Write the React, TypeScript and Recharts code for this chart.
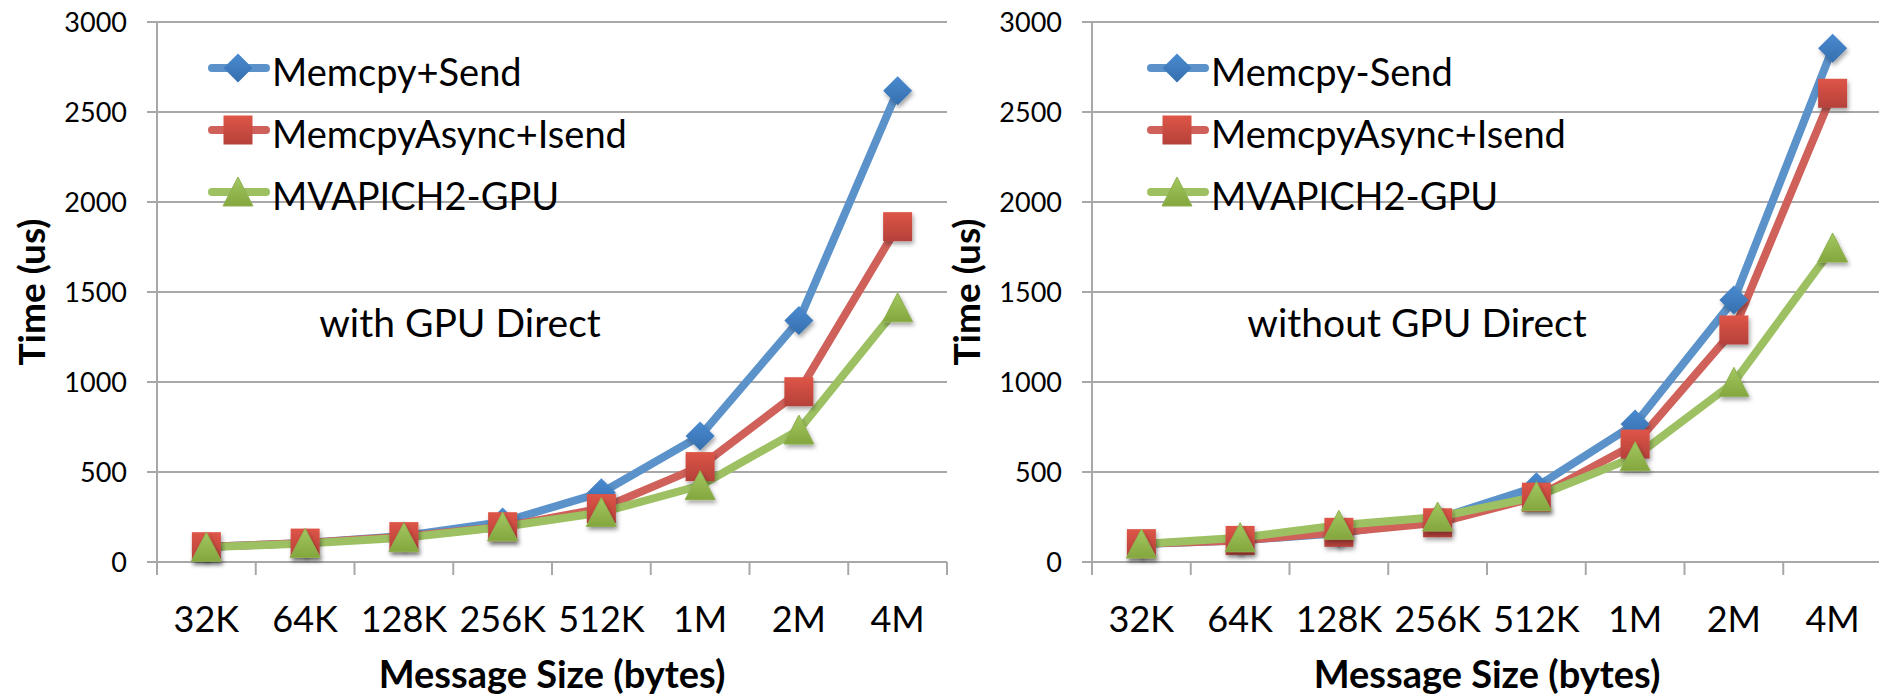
import { LineChart, Line, XAxis, YAxis, CartesianGrid, Legend } from "recharts";

// message sizes on the x axis
const categories = ["32K", "64K", "128K", "256K", "512K", "1M", "2M", "4M"];
const yTicks = [0, 500, 1000, 1500, 2000, 2500, 3000];

// with GPU Direct (left panel)
const directMemcpySend = [85, 105, 145, 222, 385, 700, 1341, 2618];
const directAsyncIsend = [85, 105, 141, 196, 297, 530, 946, 1863];
const directMvapich = [82, 103, 135, 195, 275, 424, 733, 1412];

// without GPU Direct (right panel)
const plainMemcpySend = [100, 120, 160, 240, 418, 767, 1456, 2854];
const plainAsyncIsend = [102, 120, 165, 218, 360, 655, 1289, 2604];
const plainMvapich = [100, 135, 204, 250, 363, 585, 998, 1744];

const FONT = "Lato, 'Open Sans', sans-serif";
const GRID = "#a8a8a8";
const CHART_W = 950;
const CHART_H = 697;
const Y_AXIS_W = 157;
const MARGIN = { top: 22, right: 3, left: 0, bottom: 0 };
const PLOT_W = CHART_W - Y_AXIS_W - MARGIN.right;
const BAND = PLOT_W / categories.length;

type Shape = "diamond" | "square" | "triangle";

interface SeriesDef {
  key: string;
  name: string;
  line: string;
  shape: Shape;
}

const buildData = (a: number[], b: number[], c: number[]) =>
  categories.map((size, i) => ({ size, send: a[i], async: b[i], mvapich: c[i] }));

const directData = buildData(directMemcpySend, directAsyncIsend, directMvapich);
const plainData = buildData(plainMemcpySend, plainAsyncIsend, plainMvapich);

const seriesFor = (firstName: string): SeriesDef[] => [
  { key: "send", name: firstName, line: "#5b92ca", shape: "diamond" },
  { key: "async", name: "MemcpyAsync+Isend", line: "#cf605a", shape: "square" },
  { key: "mvapich", name: "MVAPICH2-GPU", line: "#9dc162", shape: "triangle" },
];

function MarkerDefs() {
  return (
    <svg width={0} height={0} style={{ position: "absolute" }}>
      <defs>
        <linearGradient id="mk-blue" x1="0" y1="0" x2="0" y2="1">
          <stop offset="0%" stopColor="#4a8ad0" />
          <stop offset="100%" stopColor="#356fae" />
        </linearGradient>
        <linearGradient id="mk-red" x1="0" y1="0" x2="0" y2="1">
          <stop offset="0%" stopColor="#de5547" />
          <stop offset="100%" stopColor="#b5413a" />
        </linearGradient>
        <linearGradient id="mk-green" x1="0" y1="0" x2="0" y2="1">
          <stop offset="0%" stopColor="#a4c862" />
          <stop offset="100%" stopColor="#83a63d" />
        </linearGradient>
        <filter id="mk-shadow" x="-50%" y="-50%" width="200%" height="200%">
          <feDropShadow dx="1.5" dy="3" stdDeviation="2" floodColor="#000" floodOpacity="0.35" />
        </filter>
      </defs>
    </svg>
  );
}

function Marker({ cx, cy, shape, shadow = true }: { cx: number; cy: number; shape: Shape; shadow?: boolean }) {
  const filter = shadow ? "url(#mk-shadow)" : undefined;
  if (shape === "diamond") {
    const r = 14.5;
    return (
      <polygon
        points={`${cx},${cy - r} ${cx + r},${cy} ${cx},${cy + r} ${cx - r},${cy}`}
        fill="url(#mk-blue)"
        filter={filter}
      />
    );
  }
  if (shape === "square") {
    const r = 14.5;
    return <rect x={cx - r} y={cy - r} width={2 * r} height={2 * r} fill="url(#mk-red)" filter={filter} />;
  }
  return (
    <polygon
      points={`${cx},${cy - 15} ${cx + 15},${cy + 14} ${cx - 15},${cy + 14}`}
      fill="url(#mk-green)"
      stroke="#8fb050"
      strokeWidth={1}
      filter={filter}
    />
  );
}

function SeriesLegend({ series }: { series: SeriesDef[] }) {
  return (
    <div style={{ fontFamily: FONT, fontSize: 38, color: "#000" }}>
      {series.map((s) => (
        <div
          key={s.key}
          style={{ display: "flex", alignItems: "center", height: 62, lineHeight: "62px", whiteSpace: "nowrap" }}
        >
          <svg width={62} height={62} style={{ display: "block", overflow: "visible" }}>
            <line x1={4} x2={58} y1={28} y2={28} stroke={s.line} strokeWidth={8} strokeLinecap="round" />
            <Marker cx={30} cy={28} shape={s.shape} shadow={false} />
          </svg>
          <span style={{ marginLeft: 2 }}>{s.name}</span>
        </div>
      ))}
    </div>
  );
}

// category label plus the boundary tick marks Excel draws between categories
function SizeTick(props: any) {
  const { x, y, payload, index } = props;
  const half = BAND / 2;
  const axisY = y - 44;
  return (
    <g>
      <line x1={x - half} x2={x - half} y1={axisY} y2={axisY + 13} stroke={GRID} strokeWidth={2} />
      {index === categories.length - 1 && (
        <line x1={x + half} x2={x + half} y1={axisY} y2={axisY + 13} stroke={GRID} strokeWidth={2} />
      )}
      <text x={x} y={y} dy="0.71em" textAnchor="middle" fontFamily={FONT} fontSize={36} fill="#000">
        {payload.value}
      </text>
    </g>
  );
}

const yTitle = (props: any) => {
  const vb = props.viewBox;
  const x = vb.x + 45;
  const y = vb.y + vb.height / 2;
  return (
    <text
      x={x}
      y={y}
      transform={`rotate(-90 ${x} ${y})`}
      textAnchor="middle"
      fontFamily={FONT}
      fontSize={37}
      fontWeight={700}
      fill="#000"
    >
      Time (us)
    </text>
  );
};

const xTitle = (props: any) => {
  const vb = props.viewBox;
  return (
    <text
      x={vb.x + vb.width / 2}
      y={vb.y + 126}
      textAnchor="middle"
      fontFamily={FONT}
      fontSize={38}
      fontWeight={700}
      fill="#000"
    >
      Message Size (bytes)
    </text>
  );
};

function Panel({
  left,
  data,
  series,
  note,
  noteCenter,
  legendLeft,
}: {
  left: number;
  data: ReturnType<typeof buildData>;
  series: SeriesDef[];
  note: string;
  noteCenter: number;
  legendLeft: number;
}) {
  return (
    <div style={{ position: "absolute", left, top: 0, width: CHART_W, height: CHART_H }}>
      <LineChart width={CHART_W} height={CHART_H} data={data} margin={MARGIN}>
        <CartesianGrid vertical={false} stroke={GRID} strokeWidth={2} />
        <XAxis
          dataKey="size"
          height={CHART_H - 562}
          interval={0}
          padding={{ left: BAND / 2, right: BAND / 2 }}
          tickLine={false}
          tickSize={13}
          tickMargin={31}
          axisLine={{ stroke: GRID, strokeWidth: 2 }}
          tick={<SizeTick />}
          label={xTitle}
        />
        <YAxis
          width={Y_AXIS_W}
          domain={[0, 3000]}
          ticks={yTicks}
          interval={0}
          tickSize={10}
          tickMargin={20}
          tickLine={{ stroke: GRID, strokeWidth: 2 }}
          axisLine={{ stroke: GRID, strokeWidth: 2 }}
          tick={{ fill: "#000", fontSize: 27, fontFamily: FONT }}
          label={yTitle}
        />
        <Legend
          layout="vertical"
          align="center"
          verticalAlign="middle"
          wrapperStyle={{ left: legendLeft, top: 40, width: "auto" }}
          content={() => <SeriesLegend series={series} />}
        />
        {series.map((s) => (
          <Line
            key={s.key}
            type="linear"
            dataKey={s.key}
            name={s.name}
            stroke={s.line}
            strokeWidth={8}
            strokeLinejoin="round"
            isAnimationActive={false}
            activeDot={false}
            dot={(p: any) => <Marker key={`${s.key}-${p.index}`} cx={p.cx} cy={p.cy} shape={s.shape} />}
          />
        ))}
      </LineChart>
      <div
        style={{
          position: "absolute",
          left: noteCenter,
          top: 303,
          transform: "translateX(-50%)",
          fontFamily: FONT,
          fontSize: 39,
          lineHeight: "39px",
          whiteSpace: "nowrap",
          color: "#000",
        }}
      >
        {note}
      </div>
    </div>
  );
}

export default function App() {
  return (
    <div
      style={{
        position: "absolute",
        left: 0,
        top: 0,
        width: 1879,
        height: 697,
        overflow: "hidden",
        background: "#fff",
      }}
    >
      <MarkerDefs />
      <Panel
        left={0}
        data={directData}
        series={seriesFor("Memcpy+Send")}
        note="with GPU Direct"
        noteCenter={460}
        legendLeft={208}
      />
      <Panel
        left={935}
        data={plainData}
        series={seriesFor("Memcpy-Send")}
        note="without GPU Direct"
        noteCenter={482}
        legendLeft={212}
      />
    </div>
  );
}
